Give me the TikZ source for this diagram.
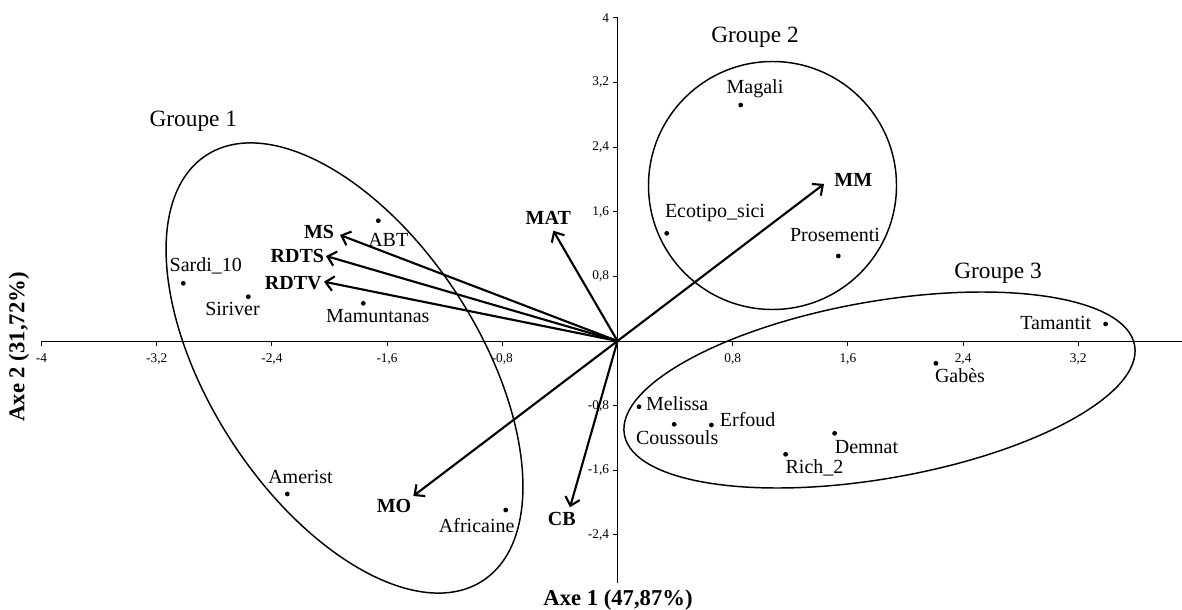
\documentclass[tikz,border=0pt]{standalone}
\usepackage{fontspec}
\setmainfont{Liberation Serif}
\usetikzlibrary{arrows.meta}

\tikzset{every picture/.style={line width=0.75pt}}
\tikzset{
  dotpt/.style={circle,fill,inner sep=0pt,minimum size=3.6pt},
  lbl/.style={inner sep=0.75pt,font=\fontsize{15}{18}\selectfont},
  varlbl/.style={inner sep=0.75pt,font=\fontsize{15}{18}\selectfont\bfseries},
  grplbl/.style={inner sep=0.75pt,font=\fontsize{17.5}{21}\selectfont},
  axlbl/.style={inner sep=0.75pt,font=\fontsize{17}{20}\selectfont\bfseries},
  ticklbl/.style={inner sep=0pt,font=\fontsize{10}{12}\selectfont},
  vec/.style={line width=1.6pt,-{Straight Barb[length=6pt,width=11pt]}},
  zone/.style={line width=1.1pt},
}

\begin{document}
\begin{tikzpicture}[x=0.75pt,y=0.75pt,yscale=-1,xscale=1]
        \useasboundingbox (0,0) rectangle (1182,610);
        %Shape: Axis 2D
        \coordinate (o) at (617.5,341);
        \draw (41.5,341) -- (1182,341);
        \draw (617.5,18) -- (617.5,583);
        \foreach \v/\t in {-4/{-4},-3.2/{-3,2},-2.4/{-2,4},-1.6/{-1,6},-0.8/{-0,8},0.8/{0,8},1.6/{1,6},2.4/{2,4},3.2/{3,2}}{
          \draw ({617.5+144*\v},341) -- ({617.5+144*\v},346);
          \node[ticklbl,anchor=base] at ({617.5+144*\v},362) {\t};
        }
        \foreach \v/\t in {4/4,3.2/{3,2},2.4/{2,4},1.6/{1,6},0.8/{0,8},-0.8/{-0,8},-1.6/{-1,6},-2.4/{-2,4}}{
          \draw (612.5,{341-80.75*\v}) -- (617.5,{341-80.75*\v});
          \node[ticklbl,anchor=east] at (609.5,{341-80.75*\v}) {\t};
        }

        %Shape: Ellipse [Groupe 1]
        \draw [zone, rotate around={57:(344.5,368)}] (344.5,368) ellipse [x radius=253.7, y radius=134.6];
        %Shape: Circle [Groupe 2]
        \draw [zone] (772.5,185.5) circle [radius=124];
        %Shape: Ellipse [Groupe 3]
        \draw [zone, rotate around={-9.9:(879.5,390)}] (879.5,390) ellipse [x radius=259, y radius=88.6];

        % Variable vectors
        \coordinate (tMS) at (340,235);
        \coordinate (tRDTS) at (326,256);
        \coordinate (tRDTV) at (324,281.7);
        \coordinate (tMAT) at (553.3,230.7);
        \coordinate (tMM) at (824,184);
        \coordinate (tMO) at (413.3,496);
        \coordinate (tCB) at (570,507.3);
        \draw [vec] (o) -- (tMS);
        \draw [vec] (o) -- (tRDTS);
        \draw [vec] (o) -- (tRDTV);
        \draw [vec] (o) -- (tMAT);
        \draw [vec] (o) -- (tMM);
        \draw [vec] (o) -- (tMO);
        \draw [vec] (o) -- (tCB);
        \node [varlbl] (ms) at (319,231.7) {MS};
        \node [varlbl] (rdts) at (297.3,256) {RDTS};
        \node [varlbl] (rdtv) at (293.3,283.3) {RDTV};
        \node [varlbl] (mat) at (548.3,218.3) {MAT};
        \node [varlbl] (mm) at (853.3,180) {MM};
        \node [varlbl] (mo) at (394,506) {MO};
        \node [varlbl] (cb) at (561.7,518.7) {CB};

        % Groupe 1
        \node [dotpt] (sardi) at (183.3,283.3) {};
        \node [lbl] (lsardi) at (205.8,265.7) {Sardi\_10};
        \node [dotpt] (siriver) at (248.3,296.7) {};
        \node [lbl] (lsiriver) at (232.5,309.3) {Siriver};
        \node [dotpt] (abt) at (378.3,220.7) {};
        \node [lbl] (labt) at (388.3,240) {ABT};
        \node [dotpt] (mamun) at (363.3,303.3) {};
        \node [lbl] (lmamun) at (377.8,316) {Mamuntanas};
        \node [dotpt] (amerist) at (287.3,494) {};
        \node [lbl] (lamerist) at (300.5,477.3) {Amerist};
        \node [dotpt] (africaine) at (505.7,510) {};
        \node [lbl] (lafricaine) at (476.7,526) {Africaine};

        % Groupe 2
        \node [dotpt] (magali) at (740.7,105) {};
        \node [lbl] (lmagali) at (755,88.3) {Magali};
        \node [dotpt] (ecotipo) at (666.7,233.3) {};
        \node [lbl] (lecotipo) at (715,213.3) {Ecotipo\_sici};
        \node [dotpt] (prosementi) at (838.3,256) {};
        \node [lbl] (lprosementi) at (835,235) {Prosementi};

        % Groupe 3
        \node [dotpt] (tamantit) at (1105.6,324) {};
        \node [lbl] (ltamantit) at (1055.8,323.3) {Tamantit};
        \node [dotpt] (gabes) at (935.9,363.3) {};
        \node [lbl] (lgabes) at (960,376) {Gabès};
        \node [dotpt] (melissa) at (639,406.7) {};
        \node [lbl] (lmelissa) at (677.2,403.3) {Melissa};
        \node [dotpt] (coussouls) at (674.2,424.3) {};
        \node [lbl] (lcoussouls) at (677.2,437.3) {Coussouls};
        \node [dotpt] (erfoud) at (711.4,425) {};
        \node [lbl] (lerfoud) at (747.7,420) {Erfoud};
        \node [dotpt] (demnat) at (834.6,433.3) {};
        \node [lbl] (ldemnat) at (866.5,446.7) {Demnat};
        \node [dotpt] (rich) at (785.6,454.3) {};
        \node [lbl] (lrich) at (814.5,468.3) {Rich\_2};

        % Text Node
        \node [grplbl] (g1) at (193.3,121.7) {Groupe 1};
        \node [grplbl] (g2) at (755,37.3) {Groupe 2};
        \node [grplbl] (g3) at (998,273.3) {Groupe 3};
        \node [axlbl] (ax1) at (618,600) {Axe 1 (47,87\%)};
        \node [axlbl,rotate=90] (ax2) at (19,347) {Axe 2 (31,72\%)};
\end{tikzpicture}
\end{document}
